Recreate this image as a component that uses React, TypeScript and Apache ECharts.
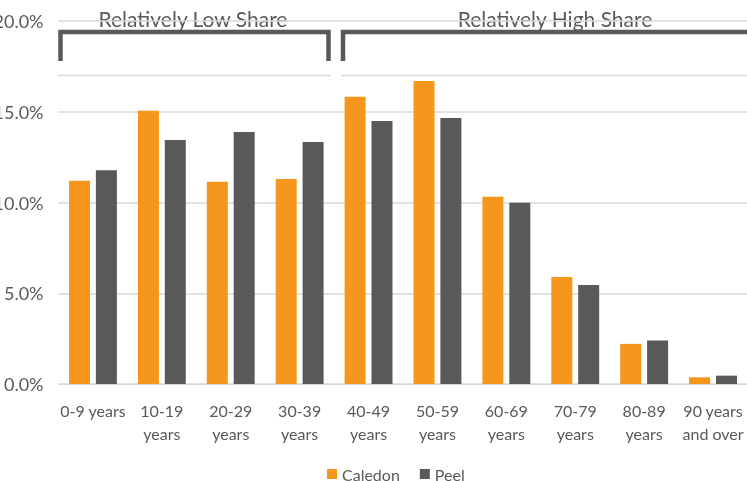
import React, { useEffect, useRef } from "react";
import * as echarts from "echarts";

const categories = [
  "0-9 years",
  "10-19\nyears",
  "20-29\nyears",
  "30-39\nyears",
  "40-49\nyears",
  "50-59\nyears",
  "60-69\nyears",
  "70-79\nyears",
  "80-89\nyears",
  "90 years\nand over",
];
const caledon = [11.2, 15.05, 11.14, 11.3, 15.82, 16.69, 10.31, 5.9, 2.21, 0.37];
const peel = [11.77, 13.44, 13.89, 13.34, 14.49, 14.65, 9.98, 5.46, 2.4, 0.46];
const groupLabels = ["Relatively Low Share", "Relatively High Share"];

const FONT = "Lato, 'Liberation Sans', sans-serif";
const TXT = "#595959";
const OFF = 20;

export default function App() {
  const ref = useRef<HTMLDivElement>(null);
  useEffect(() => {
    if (!ref.current) return;
    const chart = echarts.init(ref.current, undefined, { renderer: "svg" });
    const dark = "#595959";
    chart.setOption({
      animation: false,
      textStyle: { fontFamily: FONT },
      grid: { left: 58.5 + OFF, right: 19.5, top: 21, bottom: 97 },
      legend: {
        left: 322 + OFF,
        top: 461,
        itemWidth: 10,
        itemHeight: 10,
        itemGap: 20,
        icon: "rect",
        textStyle: { color: TXT, fontSize: 16, fontFamily: FONT },
        data: ["Caledon", "Peel"],
      },
      xAxis: {
        type: "category",
        data: categories,
        axisLine: { lineStyle: { color: "#d9d9d9", width: 1 } },
        axisTick: { show: false },
        axisLabel: {
          color: TXT,
          fontSize: 16,
          fontFamily: FONT,
          lineHeight: 23,
          margin: 15,
          interval: 0,
        },
      },
      yAxis: {
        type: "value",
        min: 0,
        max: 20,
        interval: 5,
        axisLine: { show: false },
        axisTick: { show: false },
        splitLine: { lineStyle: { color: "#d9d9d9", width: 1.5 } },
        axisLabel: {
          color: TXT,
          fontSize: 18,
          fontFamily: FONT,
          margin: 15,
          formatter: (v: number) => v.toFixed(1) + "%",
        },
      },
      series: [
        {
          name: "Caledon",
          type: "bar",
          data: caledon,
          barWidth: 21,
          barGap: "28%",
          itemStyle: { color: "#F7961C" },
        },
        {
          name: "Peel",
          type: "bar",
          data: peel,
          barWidth: 21,
          itemStyle: { color: dark },
        },
      ],
      graphic: [
        {
          type: "line",
          shape: { x1: 58 + OFF, y1: 75.5, x2: 331 + OFF, y2: 75.5 },
          style: { stroke: "#dcdcdc", lineWidth: 1.5 },
        },
        {
          type: "line",
          shape: { x1: 341 + OFF, y1: 75.5, x2: 800, y2: 75.5 },
          style: { stroke: "#dcdcdc", lineWidth: 1.5 },
        },
        {
          type: "polyline",
          shape: {
            points: [
              [60.5 + OFF, 61],
              [60.5 + OFF, 32],
              [328.5 + OFF, 32],
              [328.5 + OFF, 61],
            ],
          },
          style: { stroke: dark, lineWidth: 4.5, fill: "none" },
        },
        {
          type: "polyline",
          shape: {
            points: [
              [343 + OFF, 61],
              [343 + OFF, 32],
              [800, 32],
            ],
          },
          style: { stroke: dark, lineWidth: 4.5, fill: "none" },
        },
        {
          type: "text",
          x: 193 + OFF,
          y: 18,
          style: {
            text: groupLabels[0],
            fill: TXT,
            font: `21px ${FONT}`,
            textAlign: "center",
            textVerticalAlign: "middle",
          },
        },
        {
          type: "text",
          x: 555 + OFF,
          y: 18,
          style: {
            text: groupLabels[1],
            fill: TXT,
            font: `21px ${FONT}`,
            textAlign: "center",
            textVerticalAlign: "middle",
          },
        },
      ],
    });
    return () => chart.dispose();
  }, []);
  return (
    <div
      ref={ref}
      style={{ position: "fixed", left: -OFF, top: 0, width: 787, height: 481 }}
    />
  );
}
